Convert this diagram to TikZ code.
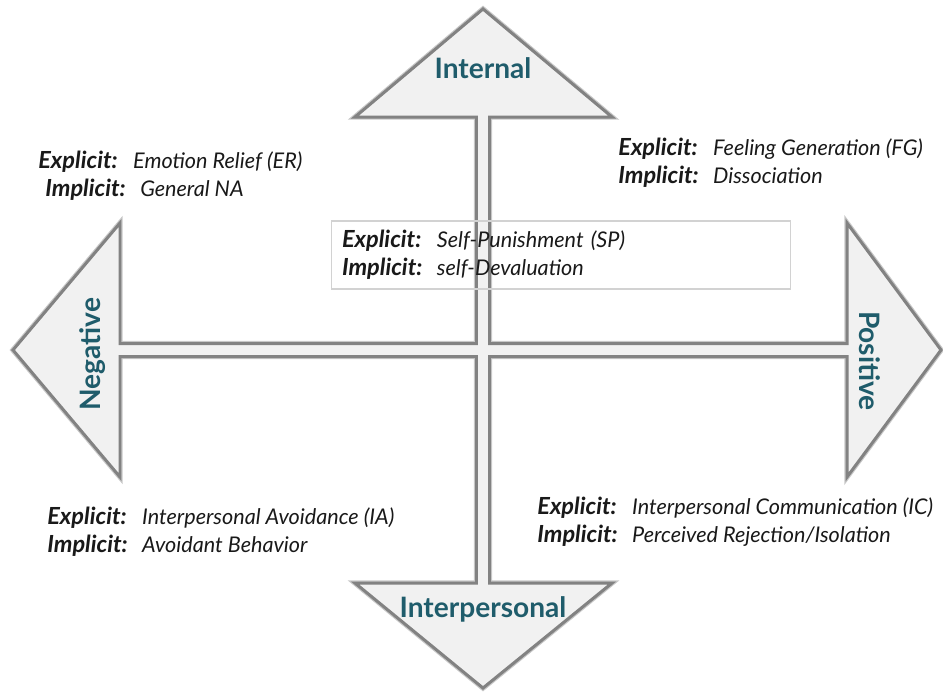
\documentclass[tikz,border=0pt]{standalone}
\usepackage{fontspec}
\setmainfont{Lato}
\usepackage{xcolor}
\usepackage{tikz}

\definecolor{headfill}{RGB}{241,241,241}
\definecolor{headline}{RGB}{130,130,130}
\definecolor{axisteal}{RGB}{31,92,107}

% bold label, fixed column, then the italic description
\newcommand{\cueline}[2]{\makebox[54pt][l]{\fontsize{13.4}{16}\selectfont\textbf{\textit{#1:}}}\textit{#2}}

\begin{document}
\begin{tikzpicture}[
  x=0.02cm, y=-0.02cm,
  cross/.style={draw=headline, line width=1.7pt, fill=headfill, line join=miter},
  crossglow/.style={draw=headline!45, line width=3pt, line join=miter},
  axislabel/.style={text=axisteal, font=\fontsize{16}{19}\selectfont\bfseries},
  cue/.style={anchor=west, align=left, inner sep=0pt, text=black!90, font=\fontsize{12.3}{16}\selectfont},
  cuebox/.style={cue, anchor=center, draw=gray!35, line width=0.6pt, inner xsep=0.22cm,
    text width=8.76cm, minimum height=1.36cm}
]
\useasboundingbox (0,0) rectangle (943,691);

% both double-headed arrows as one outline, soft edge first
\foreach \look in {crossglow, cross}
  \draw[\look] (483,9) -- (612,117) -- (489.5,117) -- (489.5,343.5) -- (847,343.5)
    -- (847,223) -- (941,350) -- (847,477) -- (847,356.5) -- (489.5,356.5)
    -- (489.5,583) -- (612,583) -- (483,688) -- (355,583) -- (476.5,583)
    -- (476.5,356.5) -- (120,356.5) -- (120,477) -- (13,350) -- (120,223)
    -- (120,343.5) -- (476.5,343.5) -- (476.5,117) -- (355,117) -- cycle;

\node[axislabel] (internal) at (483,68) {Internal};
\node[axislabel] (interpersonal) at (483,609) {Interpersonal};
\node[axislabel, rotate=90] (negative) at (93,354) {Negative};
\node[axislabel, rotate=-90] (positive) at (870,361) {Positive};

\node[cue] (er) at (38,176) {\cueline{Explicit}{Emotion Relief (ER)}\\\hspace*{4pt}\cueline{Implicit}{General NA}};
\node[cue] (fg) at (618,163) {\cueline{Explicit}{Feeling Generation (FG)}\\\cueline{Implicit}{Dissociation}};
\node[cuebox] (sp) at (561,255) {\cueline{Explicit}{Self-Punishment (SP)}\\\cueline{Implicit}{self-Devaluation}};
\node[cue] (ia) at (47,532) {\cueline{Explicit}{Interpersonal Avoidance (IA)}\\\cueline{Implicit}{Avoidant Behavior}};
\node[cue] (ic) at (537,522) {\cueline{Explicit}{Interpersonal Communication (IC)}\\\cueline{Implicit}{Perceived Rejection/Isolation}};

\end{tikzpicture}
\end{document}
